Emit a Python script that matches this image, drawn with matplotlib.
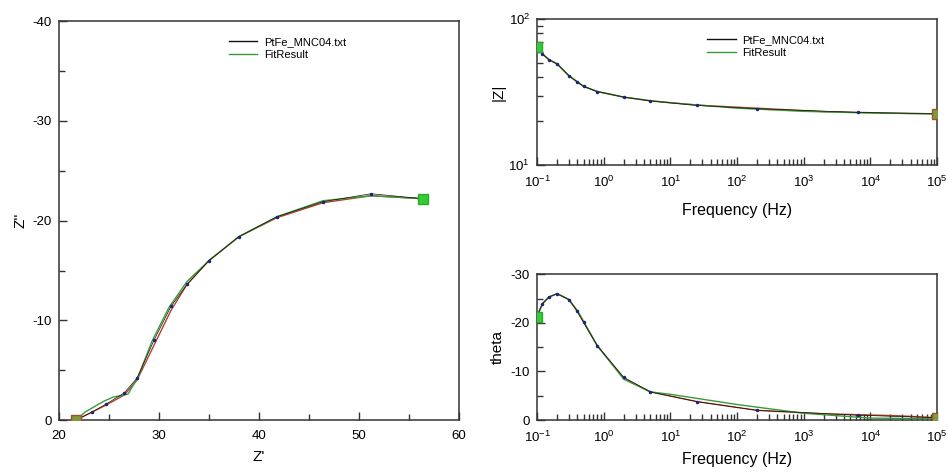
import numpy as np
import matplotlib
matplotlib.use("Agg")
import matplotlib.pyplot as plt
from matplotlib.ticker import NullFormatter

plt.rcParams['font.family'] = ['Liberation Sans', 'DejaVu Sans']
plt.rcParams['mathtext.default'] = 'regular'
plt.rcParams['axes.unicode_minus'] = False

# Nyquist data (Z', Z'')
zre_data = [21.7, 23.3, 24.7, 26.5, 27.8, 29.5, 31.2, 32.8, 35.0, 38.0, 41.8, 46.4, 51.2, 56.4]
zim_data = [0.0, -0.8, -1.6, -2.7, -4.2, -8.0, -11.4, -13.6, -16.0, -18.4, -20.4, -21.9, -22.7, -22.2]
zre_fit = [21.7, 22.6, 24.5, 25.4, 26.9, 27.9, 29.3, 31.0, 32.8, 35.0, 38.0, 41.8, 46.4, 51.2, 56.4]
zim_fit = [0.0, -0.8, -1.9, -2.3, -2.6, -4.3, -7.9, -11.3, -13.9, -16.0, -18.4, -20.4, -22.0, -22.5, -22.2]
zre_red = [21.7, 23.3, 24.7, 26.5, 27.8, 29.5, 31.2, 32.8, 35.0, 38.0, 41.8, 46.4, 51.2, 56.4]
zim_red = [0.0, -0.8, -1.5, -2.5, -4.0, -7.5, -11.0, -13.6, -16.0, -18.4, -20.3, -21.8, -22.5, -22.2]

# Bode data
freq = [0.1, 0.12, 0.15, 0.2, 0.3, 0.4, 0.5, 0.8, 2, 5, 25, 200, 6600, 1e5]
zmod_data = [65.0, 58.0, 53.0, 49.5, 41.1, 37.3, 34.7, 32.0, 29.3, 27.6, 25.7, 24.4, 23.0, 22.5]
theta_data = [-21.3, -23.9, -25.3, -26.0, -24.8, -22.4, -20.1, -15.3, -8.8, -5.8, -3.8, -2.0, -1.0, -0.5]

freq_fit = [0.1, 0.12, 0.15, 0.2, 0.3, 0.4, 0.5, 0.8, 2, 5, 10, 100, 1000, 10000, 1e5]
zmod_fit = [65.0, 58.0, 53.0, 49.5, 41.1, 37.3, 34.7, 32.0, 29.3, 27.7, 26.8, 24.6, 23.4, 22.8, 22.5]
theta_fit = [-21.3, -23.9, -25.3, -26.0, -24.8, -22.6, -20.3, -15.3, -8.4, -5.8, -5.3, -3.2, -1.4, -0.4, -0.3]

freq_red = [0.1, 0.12, 0.15, 0.2, 0.3, 0.4, 0.5, 0.8, 2, 5, 25, 200, 2000, 25000, 1e5]
zmod_red = [65.0, 58.0, 53.0, 49.5, 41.1, 37.3, 34.7, 32.0, 29.3, 27.6, 25.8, 24.6, 23.3, 22.7, 22.5]
theta_red = [-21.3, -23.9, -25.3, -26.0, -24.8, -22.4, -20.1, -15.3, -8.6, -5.8, -3.8, -2.0, -1.3, -0.9, -0.5]

data_label = 'PtFe_MNC04.txt'
fit_label = 'FitResult'

c_data = '#111111'
c_dot = '#1a237e'
c_fit = '#3a9a3a'
c_red = '#b5402a'

fig = plt.figure(figsize=(9.48, 4.72), dpi=100)
ax1 = fig.add_axes([0.0622, 0.110, 0.422, 0.845])
ax2 = fig.add_axes([0.5665, 0.650, 0.422, 0.309])
ax3 = fig.add_axes([0.5665, 0.110, 0.422, 0.309])


def style(ax):
    for s in ax.spines.values():
        s.set_linewidth(1.1)
        s.set_color('#333333')
    ax.tick_params(which='both', direction='in', top=False, right=False,
                   labelsize=9.5, width=1.0, color='#333333')
    ax.tick_params(which='major', length=6)
    ax.tick_params(which='minor', length=4)
    ax.tick_params(axis='x', which='both', pad=7)
    ax.tick_params(axis='y', which='both', pad=5)


def draw(ax, x_red, y_red, x_fit, y_fit, x_d, y_d):
    ax.plot(x_red, y_red, color=c_red, lw=1.0, zorder=2)
    ax.plot(x_fit, y_fit, color=c_fit, lw=1.0, label=fit_label, zorder=3)
    ax.plot(x_d, y_d, color=c_data, lw=0.5, zorder=4)
    ax.plot(x_d, y_d, ls='none', marker='o', ms=1.5, color=c_dot, zorder=5)
    # legend proxy for data line
    ax.plot([], [], color=c_data, lw=1.0, label=data_label)
    # start / end squares
    ax.plot(x_d[-1], y_d[-1], marker='s', ms=7, mfc='#33cc33', mec='#2ea82e', ls='none', zorder=6)
    ax.plot(x_d[0], y_d[0], marker='s', ms=7, mfc='#7f9a3a', mec='#a0522d', ls='none', zorder=6)


def legend(ax, x, y):
    h, l = ax.get_legend_handles_labels()
    order = [l.index(data_label), l.index(fit_label)]
    ax.legend([h[i] for i in order], [l[i] for i in order], loc='upper left',
              bbox_to_anchor=(x, y), frameon=False, fontsize=8,
              handlelength=2.6, handletextpad=0.6, labelspacing=0.25, borderpad=0)


# Nyquist
style(ax1)
draw(ax1, zre_red, zim_red, zre_fit, zim_fit, zre_data, zim_data)
ax1.set_xlim(20, 60)
ax1.set_ylim(0, -40)
ax1.set_xticks([20, 30, 40, 50, 60])
ax1.set_xticks([25, 35, 45, 55], minor=True)
ax1.set_yticks([0, -10, -20, -30, -40])
ax1.set_yticks([-5, -15, -25, -35], minor=True)
ax1.set_xlabel("Z'", fontsize=11, labelpad=6)
ax1.set_ylabel("Z''", fontsize=11, labelpad=4)
legend(ax1, 0.41, 0.975)

# |Z|
style(ax2)
draw(ax2, freq_red[::-1], zmod_red[::-1], freq_fit[::-1], zmod_fit[::-1], freq[::-1], zmod_data[::-1])
ax2.set_xscale('log')
ax2.set_yscale('log')
ax2.set_xlim(0.1, 1e5)
ax2.set_ylim(10, 100)
ax2.yaxis.set_minor_formatter(NullFormatter())
ax2.set_xlabel('Frequency (Hz)', fontsize=11.5, labelpad=9)
ax2.set_ylabel('|Z|', fontsize=11, labelpad=2)
legend(ax2, 0.41, 0.93)

# theta
style(ax3)
draw(ax3, freq_red[::-1], theta_red[::-1], freq_fit[::-1], theta_fit[::-1], freq[::-1], theta_data[::-1])
ax3.set_xscale('log')
ax3.set_xlim(0.1, 1e5)
ax3.set_ylim(0, -30)
ax3.set_yticks([0, -10, -20, -30])
ax3.set_yticks([-5, -15, -25], minor=True)
ax3.set_xlabel('Frequency (Hz)', fontsize=11.5, labelpad=5)
ax3.set_ylabel('theta', fontsize=11, labelpad=4)

fig.savefig('out.png', dpi=100)
